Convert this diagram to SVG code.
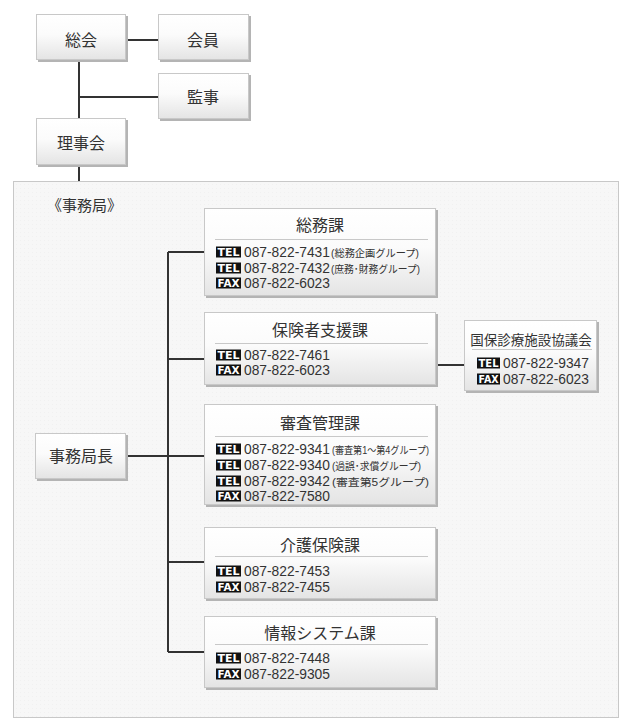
<svg xmlns="http://www.w3.org/2000/svg" width="630" height="721" viewBox="0 0 630 721">
<defs>
<linearGradient id="g" x1="0" y1="0" x2="0" y2="1">
<stop offset="0" stop-color="#ffffff"/>
<stop offset="0.45" stop-color="#fbfbfb"/>
<stop offset="1" stop-color="#e4e4e4"/>
</linearGradient>
<pattern id="dots" width="4" height="4" patternUnits="userSpaceOnUse">
<rect width="4" height="4" fill="#f7f7f7"/>
<rect width="1" height="1" fill="#f1f1f1"/>
</pattern>
</defs>
<style>
text{font-family:"Liberation Sans","Noto Sans CJK JP",sans-serif;fill:#333}
.box{fill:url(#g);stroke:#c8c8c8;stroke-width:1}
.sh{fill:#b4b4b4}
.t{font-size:16px;text-anchor:middle}
.ph{font-size:13.8px}
.sm{font-size:10.5px}
.div{stroke:#c8c8c8;stroke-width:1}
.badge{fill:#111}
.bt{font-size:10px;font-weight:900;fill:#fff;text-anchor:middle;font-family:"DejaVu Sans","Liberation Sans",sans-serif}
.conn{stroke:#333;stroke-width:2;fill:none}
</style>
<rect x="13.5" y="181.5" width="605" height="536" fill="url(#dots)" stroke="#c8c8c8"/>
<g id="connectors">
<path class="conn" d="M126 40H158M79 60V118M79 97H158M79 165V181"/>
<path class="conn" d="M168 252V652M168 252H204M168 359H204M126 456H204M168 562H204M168 652H204M436 365H464"/>
</g>
<g id="soukai"><rect class="sh" x="38" y="16" width="90" height="46"/><rect class="box" x="36.5" y="14.5" width="89" height="45"/><text class="t" x="81" y="46">総会</text></g>
<g id="kaiin"><rect class="sh" x="160" y="16" width="91" height="46"/><rect class="box" x="158.5" y="14.5" width="90" height="45"/><text class="t" x="203" y="46">会員</text></g>
<g id="kansa"><rect class="sh" x="160" y="75" width="91" height="46"/><rect class="box" x="158.5" y="73.5" width="90" height="45"/><text class="t" x="203" y="103">監事</text></g>
<g id="rijikai"><rect class="sh" x="38" y="120" width="90" height="47"/><rect class="box" x="36.5" y="118.5" width="89" height="46"/><text class="t" x="81" y="149">理事会</text></g>
<g id="jimukyoku-label"><text x="47" y="211" style="font-size:15px">《事務局》</text></g>
<g id="jimukyokucho"><rect class="sh" x="37" y="435" width="91" height="46"/><rect class="box" x="35.5" y="433.5" width="90" height="45"/><text class="t" x="81" y="462">事務局長</text></g>

<g id="soumu">
<rect class="sh" x="206" y="210" width="232" height="88"/><rect class="box" x="204.5" y="208.5" width="231" height="87"/>
<text class="t" x="320" y="231">総務課</text>
<line class="div" x1="215" y1="239.5" x2="428" y2="239.5"/>
<rect class="badge" x="216" y="246.5" width="25" height="11"/><text class="bt" x="228.5" y="256" textLength="22" lengthAdjust="spacingAndGlyphs">TEL</text>
<text class="ph" x="244" y="257">087-822-7431</text><text class="sm" x="331" y="256.5" textLength="88" lengthAdjust="spacingAndGlyphs">(総務企画グループ)</text>
<rect class="badge" x="216" y="262.5" width="25" height="11"/><text class="bt" x="228.5" y="272" textLength="22" lengthAdjust="spacingAndGlyphs">TEL</text>
<text class="ph" x="244" y="273">087-822-7432</text><text class="sm" x="331" y="272.5" textLength="89" lengthAdjust="spacingAndGlyphs">(庶務･財務グループ)</text>
<rect class="badge" x="216" y="277.5" width="25" height="11"/><text class="bt" x="228.5" y="287" textLength="22" lengthAdjust="spacingAndGlyphs">FAX</text>
<text class="ph" x="244" y="288">087-822-6023</text>
</g>

<g id="hoken">
<rect class="sh" x="206" y="314" width="232" height="73"/><rect class="box" x="204.5" y="312.5" width="231" height="72"/>
<text class="t" x="320" y="336">保険者支援課</text>
<line class="div" x1="215" y1="343.5" x2="428" y2="343.5"/>
<rect class="badge" x="216" y="349.5" width="25" height="11"/><text class="bt" x="228.5" y="359" textLength="22" lengthAdjust="spacingAndGlyphs">TEL</text>
<text class="ph" x="244" y="360">087-822-7461</text>
<rect class="badge" x="216" y="364.5" width="25" height="11"/><text class="bt" x="228.5" y="374" textLength="22" lengthAdjust="spacingAndGlyphs">FAX</text>
<text class="ph" x="244" y="375">087-822-6023</text>
</g>

<g id="kokuho">
<rect class="sh" x="466" y="322" width="133" height="71"/><rect class="box" x="464.5" y="320.5" width="132" height="70"/>
<text class="t" x="531" y="345" style="font-size:13.5px">国保診療施設協議会</text>
<line class="div" x1="472" y1="349.5" x2="592" y2="349.5"/>
<rect class="badge" x="477" y="357.5" width="23" height="11"/><text class="bt" x="488.5" y="367" textLength="20" lengthAdjust="spacingAndGlyphs">TEL</text>
<text class="ph" x="503" y="368">087-822-9347</text>
<rect class="badge" x="477" y="373.5" width="23" height="11"/><text class="bt" x="488.5" y="383" textLength="20" lengthAdjust="spacingAndGlyphs">FAX</text>
<text class="ph" x="503" y="384">087-822-6023</text>
</g>

<g id="shinsa">
<rect class="sh" x="206" y="406" width="232" height="101"/><rect class="box" x="204.5" y="404.5" width="231" height="100"/>
<text class="t" x="320" y="429">審査管理課</text>
<line class="div" x1="215" y1="436.5" x2="428" y2="436.5"/>
<rect class="badge" x="216" y="443.5" width="25" height="11"/><text class="bt" x="228.5" y="453" textLength="22" lengthAdjust="spacingAndGlyphs">TEL</text>
<text class="ph" x="244" y="454">087-822-9341</text><text class="sm" x="332" y="453.5" textLength="97" lengthAdjust="spacingAndGlyphs">(審査第1～第4グループ)</text>
<rect class="badge" x="216" y="459.5" width="25" height="11"/><text class="bt" x="228.5" y="469" textLength="22" lengthAdjust="spacingAndGlyphs">TEL</text>
<text class="ph" x="244" y="470">087-822-9340</text><text class="sm" x="332" y="469.5" textLength="89" lengthAdjust="spacingAndGlyphs">(過誤･求償グループ)</text>
<rect class="badge" x="216" y="475.5" width="25" height="11"/><text class="bt" x="228.5" y="485" textLength="22" lengthAdjust="spacingAndGlyphs">TEL</text>
<text class="ph" x="244" y="486">087-822-9342</text><text class="sm" x="332" y="485.5" textLength="97" lengthAdjust="spacingAndGlyphs">(審査第5グループ)</text>
<rect class="badge" x="216" y="490.5" width="25" height="11"/><text class="bt" x="228.5" y="500" textLength="22" lengthAdjust="spacingAndGlyphs">FAX</text>
<text class="ph" x="244" y="501">087-822-7580</text>
</g>

<g id="kaigo">
<rect class="sh" x="206" y="529" width="232" height="72"/><rect class="box" x="204.5" y="527.5" width="231" height="71"/>
<text class="t" x="320" y="551">介護保険課</text>
<line class="div" x1="215" y1="556.5" x2="428" y2="556.5"/>
<rect class="badge" x="216" y="565.5" width="25" height="11"/><text class="bt" x="228.5" y="575" textLength="22" lengthAdjust="spacingAndGlyphs">TEL</text>
<text class="ph" x="244" y="576">087-822-7453</text>
<rect class="badge" x="216" y="581.5" width="25" height="11"/><text class="bt" x="228.5" y="591" textLength="22" lengthAdjust="spacingAndGlyphs">FAX</text>
<text class="ph" x="244" y="592">087-822-7455</text>
</g>

<g id="jouhou">
<rect class="sh" x="206" y="618" width="232" height="72"/><rect class="box" x="204.5" y="616.5" width="231" height="71"/>
<text class="t" x="320" y="639">情報システム課</text>
<line class="div" x1="215" y1="644.5" x2="428" y2="644.5"/>
<rect class="badge" x="216" y="652.5" width="25" height="11"/><text class="bt" x="228.5" y="662" textLength="22" lengthAdjust="spacingAndGlyphs">TEL</text>
<text class="ph" x="244" y="663">087-822-7448</text>
<rect class="badge" x="216" y="668.5" width="25" height="11"/><text class="bt" x="228.5" y="678" textLength="22" lengthAdjust="spacingAndGlyphs">FAX</text>
<text class="ph" x="244" y="679">087-822-9305</text>
</g>
</svg>
